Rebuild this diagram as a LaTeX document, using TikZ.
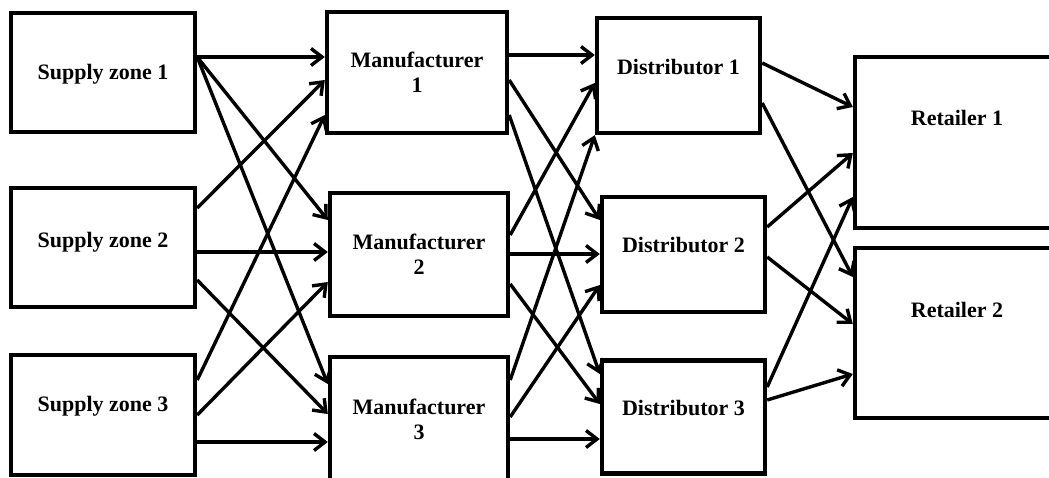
\documentclass[tikz,border=0pt]{standalone}
\usepackage{fontspec}
\setmainfont{Liberation Serif}
\usetikzlibrary{arrows.meta}

\begin{document}
\begin{tikzpicture}[x=0.5pt, y=-0.5pt,
      box/.style={rectangle, draw, line width=2.2pt, align=center, font=\bfseries\fontsize{11}{12.5}\selectfont},
      lift/.style={text height=8pt, text depth=#1},
      flow/.style={-{Straight Barb[length=5.5pt, width=8.5pt]}, line width=1.7pt}
    ]
      \clip (0,0) rectangle (1049,477);

      % supply zones
      \node[box, lift=0.6pt, minimum width=92pt, minimum height=59.5pt] (s1) at (103,72.5) {Supply zone 1};
      \node[box, lift=7.6pt, minimum width=92pt, minimum height=59.5pt] (s2) at (103,247.5) {Supply zone 2};
      \node[box, lift=11.6pt, minimum width=92pt, minimum height=60pt] (s3) at (103,415) {Supply zone 3};

      % manufacturers
      \node[box, minimum width=90pt, minimum height=60.5pt] (m1) at (417,72.5) {Manufacturer\\1};
      \node[box, minimum width=89pt, minimum height=61.5pt] (m2) at (419,254.5) {Manufacturer\\2};
      \node[box, minimum width=89pt, minimum height=62pt] (m3) at (419,419) {Manufacturer\\3};

      % distributors
      \node[box, lift=8.6pt, minimum width=81.5pt, minimum height=57.5pt] (d1) at (678.5,75.5) {Distributor 1};
      \node[box, lift=9.6pt, minimum width=81.5pt, minimum height=57.5pt] (d2) at (683.5,254.5) {Distributor 2};
      \node[box, lift=9.6pt, minimum width=81.5pt, minimum height=56.5pt] (d3) at (683.5,417) {Distributor 3};

      % retailers
      \node[box, lift=24.6pt, minimum width=102pt, minimum height=85.5pt] (r1) at (957,142.5) {Retailer 1};
      \node[box, lift=23.6pt, minimum width=102pt, minimum height=85pt] (r2) at (957,333) {Retailer 2};

      % supply zone -> manufacturer
      \draw[flow] ([yshift=7.75pt]s1.east) -- ([yshift=7.75pt]m1.west);
      \draw[flow] ([yshift=7.75pt]s1.east) -- ([yshift=17.25pt]m2.west);
      \draw[flow] ([yshift=7.75pt]s1.east) -- ([yshift=17.5pt]m3.west);
      \draw[flow] ([yshift=19.75pt]s2.east) -- ([yshift=-3.75pt]m1.west);
      \draw[flow] ([yshift=-2.25pt]s2.east) -- ([yshift=1.25pt]m2.west);
      \draw[flow] ([yshift=-16.25pt]s2.east) -- ([yshift=2.5pt]m3.west);
      \draw[flow] ([yshift=17.5pt]s3.east) -- ([yshift=-21.25pt]m1.west);
      \draw[flow] (s3.east) -- ([yshift=-13.75pt]m2.west);
      \draw[flow] ([yshift=-13.5pt]s3.east) -- ([yshift=-11.5pt]m3.west);

      % manufacturer -> distributor
      \draw[flow] ([yshift=8.75pt]m1.east) -- ([yshift=10.25pt]d1.west);
      \draw[flow] ([yshift=-3.75pt]m1.east) -- ([yshift=17.25pt]d2.west);
      \draw[flow] ([yshift=-21.25pt]m1.east) -- ([yshift=21.5pt]d3.west);
      \draw[flow] ([yshift=9.75pt]m2.east) -- ([yshift=-3.75pt]d1.west);
      \draw[flow] ([yshift=0.25pt]m2.east) -- ([yshift=0.25pt]d2.west);
      \draw[flow] ([yshift=-14.75pt]m2.east) -- ([yshift=6.5pt]d3.west);
      \draw[flow] ([yshift=19.5pt]m3.east) -- (d1.south west);
      \draw[flow] ([yshift=1pt]m3.east) -- ([yshift=-15.25pt]d2.west);
      \draw[flow] ([yshift=-10pt]m3.east) -- ([yshift=-11pt]d3.west);

      % distributor -> retailer
      \draw[flow] ([yshift=6.25pt]d1.east) -- ([yshift=17.75pt]r1.west);
      \draw[flow] ([yshift=-13.75pt]d1.east) -- ([yshift=28pt]r2.west);
      \draw[flow] ([yshift=13.75pt]d2.east) -- ([yshift=-5.25pt]r1.west);
      \draw[flow] ([yshift=-1.25pt]d2.east) -- ([yshift=4.5pt]r2.west);
      \draw[flow] ([yshift=15pt]d3.east) -- ([yshift=-27.25pt]r1.west);
      \draw[flow] ([yshift=8.5pt]d3.east) -- ([yshift=-20.5pt]r2.west);
    \end{tikzpicture}
\end{document}
